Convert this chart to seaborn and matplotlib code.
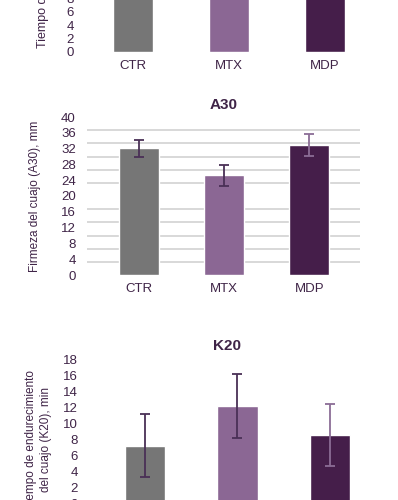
import numpy as np
import pandas as pd
import matplotlib
matplotlib.use("Agg")
import matplotlib.pyplot as plt
import seaborn as sns

sns.set_theme(style="white")
plt.rcParams['font.family'] = ['Liberation Sans', 'DejaVu Sans']

# data
groups = ["CTR", "MTX", "MDP"]
top_vals = [11.0, 12.0, 10.5]          # upper panel, bars run off the top
a30_vals = [32.1, 25.2, 33.0]
a30_err = [2.2, 2.65, 2.8]
k20_vals = [7.3, 12.3, 8.6]
k20_err = [3.9, 4.0, 3.9]

bar_colors = ["#767676", "#8b6794", "#451e4a"]
err_colors = ["#4a3056", "#4a3056", "#8b6d96"]
txt = "#3f2447"
grid_c = "#d6d6d6"

fig = plt.figure(figsize=(3.98, 5.0), dpi=100)


def style_axis(ax, grid_ticks):
    sns.despine(ax=ax, left=True, bottom=True)
    ax.set_yticks(grid_ticks, minor=True)
    ax.grid(False)
    ax.grid(True, which="minor", axis="y", color=grid_c, linewidth=1.3)
    ax.set_axisbelow(True)
    ax.tick_params(axis="both", which="both", length=0, colors=txt, labelsize=9.5)
    ax.tick_params(axis="y", pad=8)
    ax.tick_params(axis="x", pad=6)
    ax.set_xlabel("")
    ax.set_ylabel("")


def draw_bars(ax, vals, errs, width):
    df = pd.DataFrame({"grupo": groups, "valor": vals})
    sns.barplot(data=df, x="grupo", y="valor", hue="grupo", palette=bar_colors,
                width=width, legend=False, ax=ax, saturation=1)
    if errs is not None:
        for i, (v, e) in enumerate(zip(vals, errs)):
            ax.errorbar(i, v, yerr=e, color=err_colors[i], capsize=3.5, elinewidth=1.3,
                        capthick=1.3, fmt="none", zorder=5)


# upper panel (only its bottom part is visible)
ax1 = fig.add_axes([0.2136, 0.896, 0.6985, 0.188])
draw_bars(ax1, top_vals, None, 0.42)
ax1.set_ylim(0, 14)
ax1.set_xlim(-0.5, 2.4)
ax1.set_yticks(np.arange(0, 15, 2))
style_axis(ax1, np.arange(0, 15, 2))
fig.text(0.108, 0.904, "Tiempo de coagulación (R), min", rotation=90, ha="center",
         va="bottom", color=txt, fontsize=9)

# A30 panel
ax2 = fig.add_axes([0.2186, 0.45, 0.686, 0.316])
draw_bars(ax2, a30_vals, a30_err, 0.47)
ax2.set_ylim(0, 40)
ax2.set_xlim(-0.605, 2.595)
ax2.set_yticks(np.arange(0, 41, 4))
style_axis(ax2, np.linspace(0, 40, 13))
ax2.set_ylabel("Firmeza del cuajo (A30), mm", color=txt, fontsize=8.5)
ax2.yaxis.set_label_coords(-0.17, 0.5)
ax2.set_title("A30", color=txt, fontsize=11, fontweight="bold", pad=6)

# K20 panel (runs off the bottom)
ax3 = fig.add_axes([0.2236, -0.008, 0.6935, 0.288])
draw_bars(ax3, k20_vals, k20_err, 0.44)
ax3.set_ylim(0, 18)
ax3.set_xlim(-0.605, 2.38)
ax3.set_yticks(np.arange(0, 19, 2))
style_axis(ax3, np.arange(0, 19, 2))
ax3.set_ylabel("Tiempo de endurecimiento\ndel cuajo (K20), min", color=txt,
               fontsize=8.5, linespacing=1.35)
ax3.yaxis.set_label_coords(-0.135, 0.45)
ax3.set_title("K20", color=txt, fontsize=11, fontweight="bold", pad=7)

fig.savefig("out.png", dpi=100)
